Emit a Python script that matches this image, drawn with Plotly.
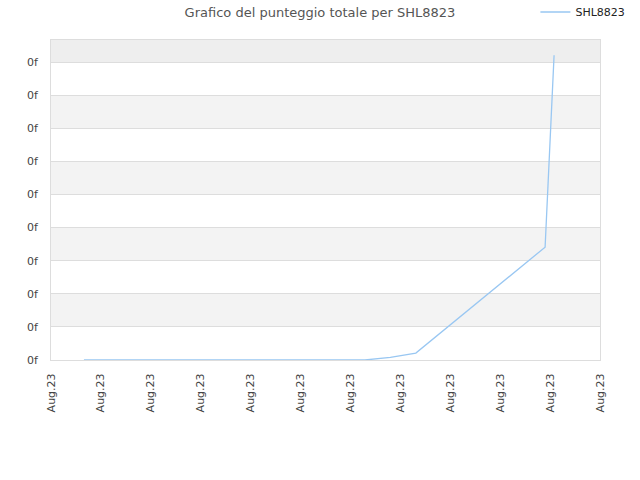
import plotly.graph_objects as go

# Data (x in tick steps, y in grid steps)
x_pos = [0.66, 6.29, 6.8, 7.31, 9.90, 10.08]
y_val = [0.0, 0.0, 0.08, 0.21, 3.41, 9.21]
x_ticks = list(range(12))
x_labels = ["Aug.23"] * 12
y_ticks = list(range(10))
y_labels = ["0f"] * 10

fig = go.Figure()
fig.add_trace(go.Scatter(
    x=x_pos, y=y_val, mode="lines", name="SHL8823",
    line=dict(color="#99c7f2", width=1.3),
))

# alternating background bands
for t in y_ticks:
    if t % 2 == 1:
        fig.add_shape(type="rect", xref="paper", x0=0, x1=1, y0=t, y1=t + 1,
                      fillcolor="#eeeeee" if t == 9 else "#f3f3f3",
                      line_width=0, layer="below")

fig.update_layout(
    width=640, height=480,
    title=dict(text="Grafico del punteggio totale per SHL8823", x=0.5, y=0.975,
               yanchor="middle",
               font=dict(family="DejaVu Sans", size=13, color="#555555")),
    font=dict(family="DejaVu Sans", size=11, color="#444444"),
    plot_bgcolor="white", paper_bgcolor="white",
    margin=dict(l=51, r=40, t=40, b=120, autoexpand=False),
    showlegend=True,
    legend=dict(xref="container", yref="container", x=0.985, y=0.975,
                xanchor="right", yanchor="middle",
                font=dict(size=11, color="#222222"), itemwidth=30),
)
fig.update_xaxes(range=[0, 11], tickvals=x_ticks, ticktext=x_labels,
                 tickangle=-90, showgrid=False, zeroline=False,
                 showline=True, linecolor="#dddddd", mirror=True,
                 ticks="", ticklabelstandoff=8,
                 tickfont=dict(size=11, color="#444444"))
fig.update_yaxes(range=[0, 9.67], tickvals=y_ticks, ticktext=y_labels,
                 showgrid=True, gridcolor="#dddddd", zeroline=False,
                 showline=True, linecolor="#dddddd", mirror=True,
                 ticks="", ticklabelstandoff=10,
                 tickfont=dict(size=11, color="#444444"))

# page body margin would push the fixed-size figure off the window
fig.write_html("out.html", config={"displayModeBar": False},
               post_script="document.body.style.margin='0';")
